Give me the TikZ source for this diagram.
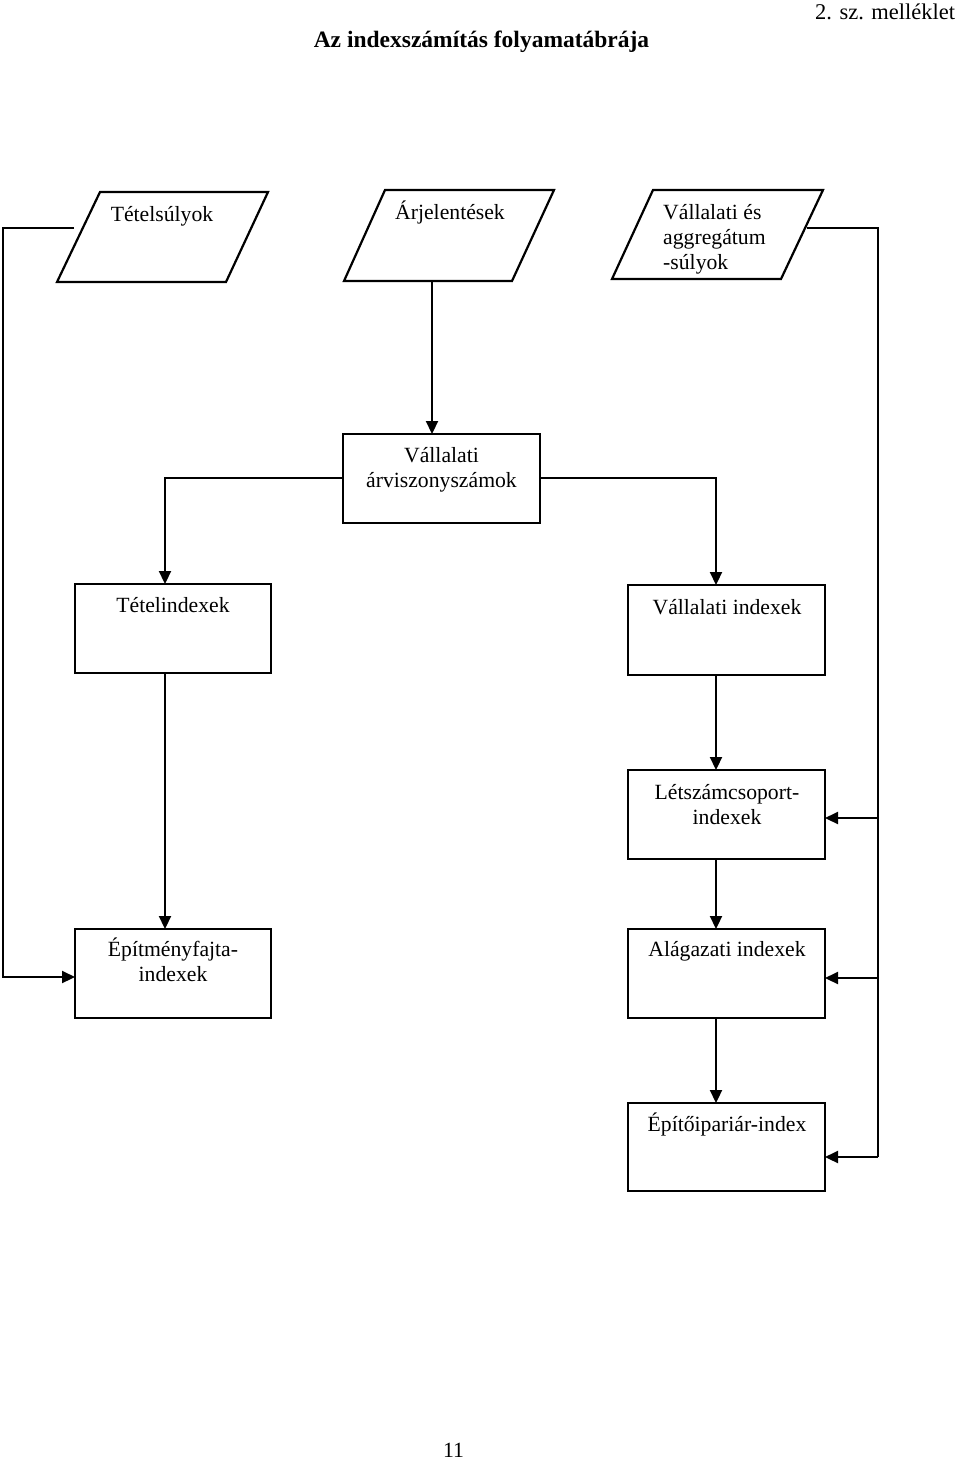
\documentclass[tikz,border=0pt]{standalone}
\usepackage{fontspec}
\setmainfont{Liberation Serif}
\usetikzlibrary{arrows.meta}
\begin{document}
\begin{tikzpicture}[x=1pt,y=-1pt,
  every node/.style={font=\fontsize{21.7}{25}\selectfont},
  box/.style={draw,line width=2.2pt,rectangle,inner sep=0pt,outer sep=0pt,minimum width=196pt,minimum height=89pt},
  lbl/.style={anchor=base,align=center,inner sep=0pt},
  para/.style={line width=2.2pt,line join=miter},
  conn/.style={line width=2.2pt},
  arr/.style={line width=2.2pt,-{Triangle[length=13pt,width=12pt]}}]
\useasboundingbox (0,0) rectangle (960,1459);
% header
\node[lbl,font=\fontsize{23.5}{27}\selectfont\bfseries] (title) at (481.5,47) {Az indexszámítás folyamatábrája};
\node[lbl,anchor=base west,font=\fontsize{22.5}{26}\selectfont] (annex) at (815,19) {2. sz. melléklet};
\node[lbl] (page) at (453.5,1457) {11};
% input parallelograms
\draw[para] (100,192) -- (268,192) -- (226,282) -- (57,282) -- cycle;
\node[lbl] (tsuly) at (162,221) {Tételsúlyok};
\draw[para] (385,190) -- (554,190) -- (512,281) -- (344,281) -- cycle;
\node[lbl] (arj) at (450,219) {Árjelentések};
\draw[para] (653,190) -- (823,190) -- (781,279) -- (612,279) -- cycle;
\node[lbl,anchor=base west,align=left] (vasuly) at (663,269) {Vállalati és\\aggregátum\\-súlyok};
\coordinate (tsl) at (74,228);
\coordinate (arjb) at (432,281);
\coordinate (vasr) at (807,228);
% boxes
\node[box,minimum width=197pt] (varsz) at (441.5,478.5) {};
\node[lbl] (varszt) at (441.5,487) {Vállalati\\árviszonyszámok};
\node[box] (tetind) at (173,628.5) {};
\node[lbl] (tetindt) at (173,612) {Tételindexek};
\node[box,minimum width=197pt,minimum height=90pt] (vind) at (726.5,630) {};
\node[lbl] (vindt) at (727,614) {Vállalati indexek};
\node[box,minimum width=197pt] (letsz) at (726.5,814.5) {};
\node[lbl] (letszt) at (727,824) {Létszámcsoport-\\indexek};
\node[box] (epitm) at (173,973.5) {};
\node[lbl] (epitmt) at (173,981) {Építményfajta-\\indexek};
\node[box,minimum width=197pt] (alag) at (726.5,973.5) {};
\node[lbl] (alagt) at (727,956) {Alágazati indexek};
\node[box,minimum width=197pt,minimum height=88pt] (epip) at (726.5,1147) {};
\node[lbl] (epipt) at (727,1131) {Építőipariár-index};
% connectors
\draw[arr] (arjb) -- (arjb |- varsz.north);
\draw[arr] ([yshift=0.5pt]varsz.west) -| ([xshift=-8pt]tetind.north);
\draw[arr] ([yshift=0.5pt]varsz.east) -| ([xshift=-10.5pt]vind.north);
\draw[arr] ([xshift=-8pt]tetind.south) -- ([xshift=-8pt]epitm.north);
\draw[arr] ([xshift=-10.5pt]vind.south) -- ([xshift=-10.5pt]letsz.north);
\draw[arr] ([xshift=-10.5pt]letsz.south) -- ([xshift=-10.5pt]alag.north);
\draw[arr] ([xshift=-10.5pt]alag.south) -- ([xshift=-10.5pt]epip.north);
% left feedback
\coordinate (lc) at (3,228);
\draw[arr] (tsl) -- (lc) |- ([yshift=-3.5pt]epitm.west);
% right feedback
\coordinate (rc) at (878,228);
\coordinate (r1) at (878,818);
\coordinate (r2) at (878,978);
\coordinate (r3) at (878,1157);
\draw[conn] (vasr) -- (rc) -- (r3);
\draw[arr] (r1) -- (r1 -| letsz.east);
\draw[arr] (r2) -- (r2 -| alag.east);
\draw[arr] (r3) -- (r3 -| epip.east);
\end{tikzpicture}
\end{document}
